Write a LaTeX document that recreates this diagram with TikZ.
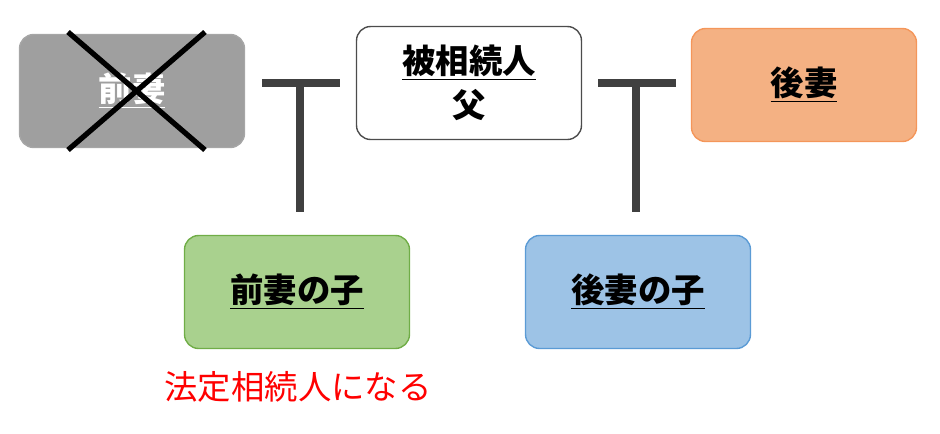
\documentclass[tikz,border=0pt]{standalone}
\usepackage{fontspec}
\setmainfont{Noto Sans CJK JP}
\tikzset{
	person/.style={draw, thick, rounded corners=8pt, minimum width=4.5cm,
		minimum height=2.26cm, align=center, font=\fontsize{19}{25}\selectfont\bfseries},
	tbar/.style={draw=black!75, line width=4.5pt}
}
\begin{document}
\begin{tikzpicture}[x=0.02cm, y=-0.02cm]
	\useasboundingbox (0,0) rectangle (940,433);
	% Personen
	\node[person, draw=gray!70, fill=gray!75] (exwife) at (132, 91)
		{\textcolor{white}{\underline{前妻}}};
	\node[person, draw=black!70, fill=white] (father) at (469, 83)
		{\underline{被相続人}\\父};
	\node[person, draw={rgb,255:red,244;green,150;blue,90},
		fill={rgb,255:red,244;green,177;blue,131}]
		(wife) at (804, 85) {\underline{後妻}};
	\node[person, draw={rgb,255:red,112;green,173;blue,71},
		fill={rgb,255:red,169;green,209;blue,142}] (exchild) at (297, 292)
		{\underline{前妻の子}};
	\node[person, draw={rgb,255:red,91;green,155;blue,213},
		fill={rgb,255:red,157;green,195;blue,230}] (child) at (638, 292)
		{\underline{後妻の子}};
	% Durchgestrichen
	\draw[line width=3pt] (68, 32) -- (205, 150);
	\draw[line width=3pt] (205, 32) -- (68, 150);
	% Verbindungen
	\coordinate (lbarL) at (262, 83);
	\coordinate (lbarR) at (340, 83);
	\coordinate (lbarM) at (300, 83);
	\coordinate (lbarB) at (300, 212);
	\coordinate (rbarL) at (598, 83);
	\coordinate (rbarR) at (676, 83);
	\coordinate (rbarM) at (636, 83);
	\coordinate (rbarB) at (636, 212);
	\draw[tbar] (lbarL) -- (lbarR);
	\draw[tbar] (lbarM) -- (lbarB);
	\draw[tbar] (rbarL) -- (rbarR);
	\draw[tbar] (rbarM) -- (rbarB);
	% Hinweis
	\node[text=red, font=\fontsize{19}{22}\selectfont] (note) at (298, 387)
		{法定相続人になる};
\end{tikzpicture}
\end{document}
